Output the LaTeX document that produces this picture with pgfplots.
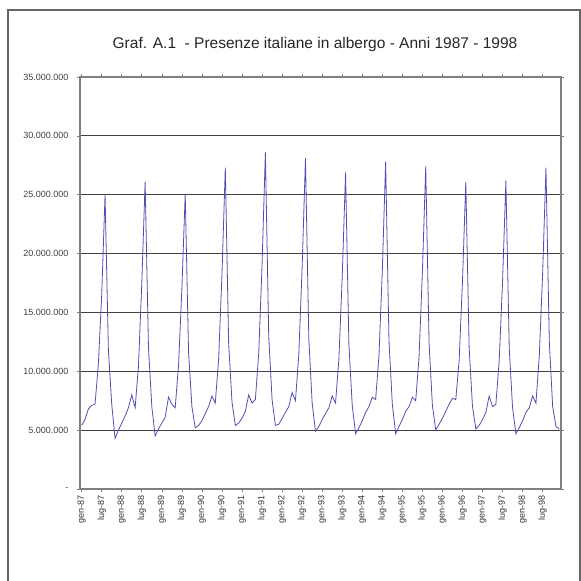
\documentclass[border=0pt]{standalone}
\usepackage{pgfplots}
\pgfplotsset{compat=1.18}
\usepackage{pgfplotstable}
\usepackage{fontspec}
\setmainfont{Liberation Sans}
\definecolor{linecol}{RGB}{80,80,180}
\pgfplotstableread{
idx val
0 5.4
1 5.9
2 6.8
3 7.1
4 7.2
5 10.6
6 16.5
7 25.0
8 11.8
9 7.2
10 4.3
11 5.0
12 5.6
13 6.2
14 6.9
15 8.0
16 6.9
17 10.4
18 17.5
19 26.1
20 12.0
21 7.0
22 4.5
23 5.1
24 5.6
25 6.1
26 7.8
27 7.2
28 6.9
29 10.5
30 17.0
31 25.1
32 11.6
33 7.0
34 5.2
35 5.4
36 5.8
37 6.4
38 7.0
39 7.9
40 7.3
41 11.0
42 18.2
43 27.3
44 12.4
45 7.4
46 5.4
47 5.6
48 6.0
49 6.6
50 8.0
51 7.3
52 7.6
53 11.5
54 19.0
55 28.6
56 13.0
57 7.6
58 5.4
59 5.5
60 6.0
61 6.5
62 7.0
63 8.2
64 7.5
65 11.4
66 18.8
67 28.1
68 12.8
69 7.3
70 4.9
71 5.3
72 5.9
73 6.4
74 6.9
75 7.9
76 7.3
77 11.0
78 18.0
79 26.9
80 12.3
81 7.1
82 4.7
83 5.2
84 5.8
85 6.5
86 7.0
87 7.8
88 7.6
89 11.3
90 18.5
91 27.8
92 12.6
93 7.2
94 4.7
95 5.3
96 5.9
97 6.6
98 7.0
99 7.8
100 7.5
101 11.2
102 18.4
103 27.4
104 12.4
105 7.1
106 5.0
107 5.5
108 6.0
109 6.6
110 7.2
111 7.7
112 7.6
113 10.9
114 17.6
115 26.1
116 12.0
117 7.0
118 5.1
119 5.4
120 5.9
121 6.5
122 7.9
123 7.0
124 7.2
125 10.9
126 17.6
127 26.2
128 12.0
129 6.9
130 4.7
131 5.2
132 5.8
133 6.5
134 6.9
135 7.9
136 7.3
137 11.3
138 18.3
139 27.3
140 12.5
141 7.0
142 5.3
143 5.1
}\presenze
\begin{document}
\begin{tikzpicture}[x=1pt,y=1pt]
\useasboundingbox (-80,-92) rectangle (501,489);
\draw[black!60, line width=2pt] (-72,-100) -- (-72,479) -- (500,479) -- (500,-100);
\node[font=\fontsize{15.5}{17}\selectfont, text=black!85] at (235,445) {Graf. A.1\ \ - Presenze italiane in albergo - Anni 1987 - 1998};
\begin{axis}[
  at={(0,0)}, anchor=south west,
  scale only axis, width=481pt, height=412pt,
  xmin=-0.5, xmax=143.5, ymin=0, ymax=35,
  axis line style={black!50, line width=1.2pt},
  ymajorgrids, grid style={black!75, line width=0.9pt},
  ytick={0,5,...,35},
  yticklabels={-,5.000.000,10.000.000,15.000.000,20.000.000,25.000.000,30.000.000,35.000.000},
  yticklabel style={font=\fontsize{9}{10}\selectfont, text=black!75, xshift=-5pt},
  xtick={0,6,...,138},
  xticklabels={gen-87,lug-87,gen-88,lug-88,gen-89,lug-89,gen-90,lug-90,gen-91,lug-91,gen-92,lug-92,gen-93,lug-93,gen-94,lug-94,gen-95,lug-95,gen-96,lug-96,gen-97,lug-97,gen-98,lug-98},
  xticklabel style={font=\fontsize{9}{10}\selectfont, text=black!80, rotate=90, anchor=east},
  tick align=outside, tick style={black!50, line width=0.6pt}, major tick length=3pt,
  clip=false,
]
\addplot[linecol, line width=0.8pt, mark=none] table[x=idx, y=val] {\presenze};
\end{axis}
\end{tikzpicture}
\end{document}
